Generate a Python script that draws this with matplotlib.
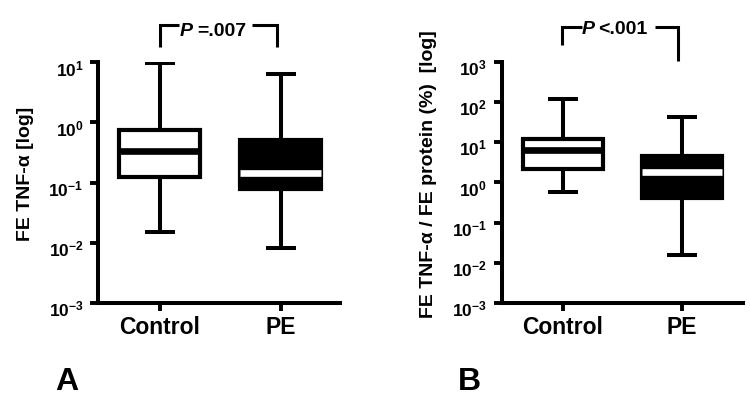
import matplotlib
matplotlib.use("Agg")
import matplotlib.pyplot as plt
from matplotlib.ticker import NullLocator
import matplotlib.transforms as mtransforms

plt.rcParams['font.family'] = ['Liberation Sans', 'DejaVu Sans']
plt.rcParams['font.weight'] = 'bold'
plt.rcParams['mathtext.fontset'] = 'custom'
plt.rcParams['mathtext.rm'] = 'Liberation Sans:bold'
plt.rcParams['mathtext.bf'] = 'Liberation Sans:bold'
plt.rcParams['mathtext.it'] = 'Liberation Sans:bold:italic'

# ---------------- data ----------------
categories = ["Control", "PE"]
# panel A: FE TNF-alpha  (whislo, q1, median, q3, whishi)
a_whislo = [0.015, 0.0081]
a_q1 = [0.122, 0.077]
a_med = [0.33, 0.147]
a_q3 = [0.74, 0.51]
a_whishi = [9.8, 6.3]
# panel B: FE TNF-alpha / FE protein (%)
b_whislo = [0.56, 0.0155]
b_q1 = [2.2, 0.41]
b_med = [6.5, 1.86]
b_q3 = [12.0, 4.6]
b_whishi = [118, 41]

a_exponents = [-3, -2, -1, 0, 1]
b_exponents = [-3, -2, -1, 0, 1, 2, 3]
a_pvalue = "=.007"
b_pvalue = "<.001"
a_ylabel = "FE TNF-\u03b1 [log]"
b_ylabel = "FE TNF-\u03b1 / FE protein (%)  [log]"

W, H = 750, 402
fig = plt.figure(figsize=(W / 100, H / 100), dpi=100)

axA = fig.add_axes([98 / W, 1 - 304 / H, (340 - 98) / W, (304 - 63.3) / H])
axB = fig.add_axes([501.7 / W, 1 - 304 / H, (743 - 501.7) / W, (304 - 62.7) / H])


def draw_panel(ax, whislo, q1, med, q3, whishi, exps, xlim):
    stats = []
    for i in range(len(categories)):
        stats.append(dict(whislo=whislo[i], q1=q1[i], med=med[i], q3=q3[i],
                          whishi=whishi[i], fliers=[], label=categories[i]))
    res = ax.bxp(stats, positions=[1, 2], widths=0.67, capwidths=0.25,
                 patch_artist=True, showfliers=False,
                 boxprops=dict(linewidth=3.0, edgecolor='black', facecolor='white'),
                 whiskerprops=dict(linewidth=2.9, color='black', solid_capstyle='butt'),
                 capprops=dict(linewidth=2.9, color='black', solid_capstyle='butt'),
                 medianprops=dict(linewidth=4.8, color='black', solid_capstyle='butt'))
    res['boxes'][1].set_facecolor('black')
    res['medians'][1].set_color('white')
    for m in res['medians']:
        m.set_zorder(5)
    ax.set_yscale('log')
    ax.set_ylim(10.0 ** exps[0], 10.0 ** exps[-1])
    ax.set_xlim(*xlim)
    ax.yaxis.set_minor_locator(NullLocator())
    ax.set_yticks([10.0 ** e for e in exps])
    ax.set_yticklabels([r"$\mathbf{10^{%d}}$" % e for e in exps], fontsize=12.5)
    ax.set_xticks([1, 2])
    ax.set_xticklabels(categories, fontsize=16.5, fontweight='bold')
    for s in ['top', 'right']:
        ax.spines[s].set_visible(False)
    for s in ['left', 'bottom']:
        ax.spines[s].set_linewidth(2.9)
        ax.spines[s].set_capstyle('projecting')
    ax.tick_params(axis='y', direction='out', length=5.5, width=2.8, pad=5)
    ax.tick_params(axis='x', direction='out', length=6, width=2.8, pad=3)
    off = mtransforms.ScaledTranslation(0, -3 / 72, fig.dpi_scale_trans)
    for lab in ax.get_yticklabels():
        lab.set_transform(lab.get_transform() + off)
    ax.patch.set_alpha(0)


draw_panel(axA, a_whislo, a_q1, a_med, a_q3, a_whishi, a_exponents, (0.488, 2.488))
draw_panel(axB, b_whislo, b_q1, b_med, b_q3, b_whishi, b_exponents, (0.489, 2.511))


def bracket(ax, yline, yl, yr, x0, xa, xb, x1, xp, xt, ybase, ptext):
    tr = ax.get_xaxis_transform()
    kw = dict(color='black', linewidth=2.2, transform=tr, clip_on=False,
              solid_capstyle='butt', solid_joinstyle='miter')
    ax.plot([x0, x0, xa], [yl, yline, yline], **kw)
    ax.plot([xb, x1, x1], [yline, yline, yr], **kw)
    ax.text(xp, ybase, "P", transform=tr, ha='left', va='baseline',
            fontsize=14, fontweight='bold', fontstyle='italic')
    ax.text(xt, ybase, ptext, transform=tr, ha='left', va='baseline',
            fontsize=14, fontweight='bold')


bracket(axA, 1.155, 1.064, 1.064, 1.0, 1.157, 1.76, 1.967, 1.165, 1.31, 1.113, a_pvalue)
bracket(axB, 1.143, 1.069, 1.004, 0.992, 1.159, 1.774, 1.966, 1.162, 1.30, 1.119, b_pvalue)

fig.text(26 / W, 1 - 173.5 / H, a_ylabel, rotation=90, ha='center', va='center',
         fontsize=14, fontweight='bold')
fig.text(429 / W, 1 - 174.5 / H, b_ylabel, rotation=90, ha='center', va='center',
         fontsize=14, fontweight='bold')

fig.text(55 / W, 1 - 390 / H, "A", ha='left', va='baseline', fontsize=23, fontweight='bold')
fig.text(458 / W, 1 - 390 / H, "B", ha='left', va='baseline', fontsize=23, fontweight='bold')

fig.savefig("out.png", dpi=100)
